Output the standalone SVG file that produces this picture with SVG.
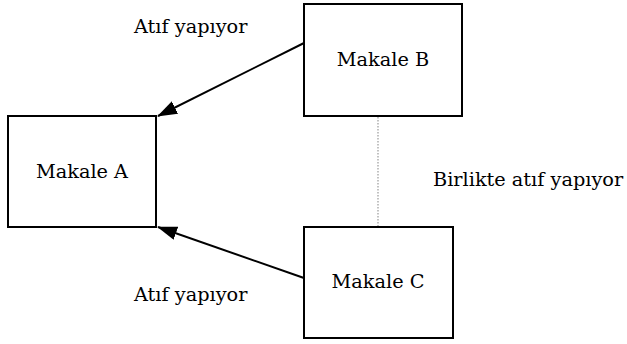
<svg xmlns="http://www.w3.org/2000/svg" width="627" height="344" viewBox="0 0 627 344">
<style>
.box{fill:#fff;stroke:#000;stroke-width:2}
.t{font-family:"DejaVu Serif",serif;font-size:19.3px;fill:#000}
.c{stroke:#000;stroke-width:2;fill:none}
.d{stroke:#999;stroke-width:1.2;stroke-dasharray:1.5 1.5;fill:none}
</style>
<defs>
<marker id="ah" markerWidth="20" markerHeight="14" refX="19" refY="7" orient="auto" markerUnits="userSpaceOnUse">
<path d="M0,0 L20,7 L0,14 Z" fill="#000"/>
</marker>
</defs>
<rect width="627" height="344" fill="#fff"/>
<g id="connectors">
<line class="c" x1="304" y1="43" x2="158" y2="116" marker-end="url(#ah)"/>
<line class="c" x1="304" y1="278" x2="158" y2="227" marker-end="url(#ah)"/>
<line class="d" x1="378" y1="117" x2="378" y2="227"/>
</g>
<g id="nodeA">
<rect class="box" x="8" y="116" width="148" height="111"/>
<text class="t" x="82" y="178" text-anchor="middle">Makale A</text>
</g>
<g id="nodeB">
<rect class="box" x="304" y="4" width="158" height="112"/>
<text class="t" x="383" y="66" text-anchor="middle">Makale B</text>
</g>
<g id="nodeC">
<rect class="box" x="304" y="227" width="149" height="111"/>
<text class="t" x="378" y="288" text-anchor="middle">Makale C</text>
</g>
<g id="labels">
<text class="t" x="134" y="33">Atıf yapıyor</text>
<text class="t" x="433" y="186">Birlikte atıf yapıyor</text>
<text class="t" x="134" y="301">Atıf yapıyor</text>
</g>
</svg>
